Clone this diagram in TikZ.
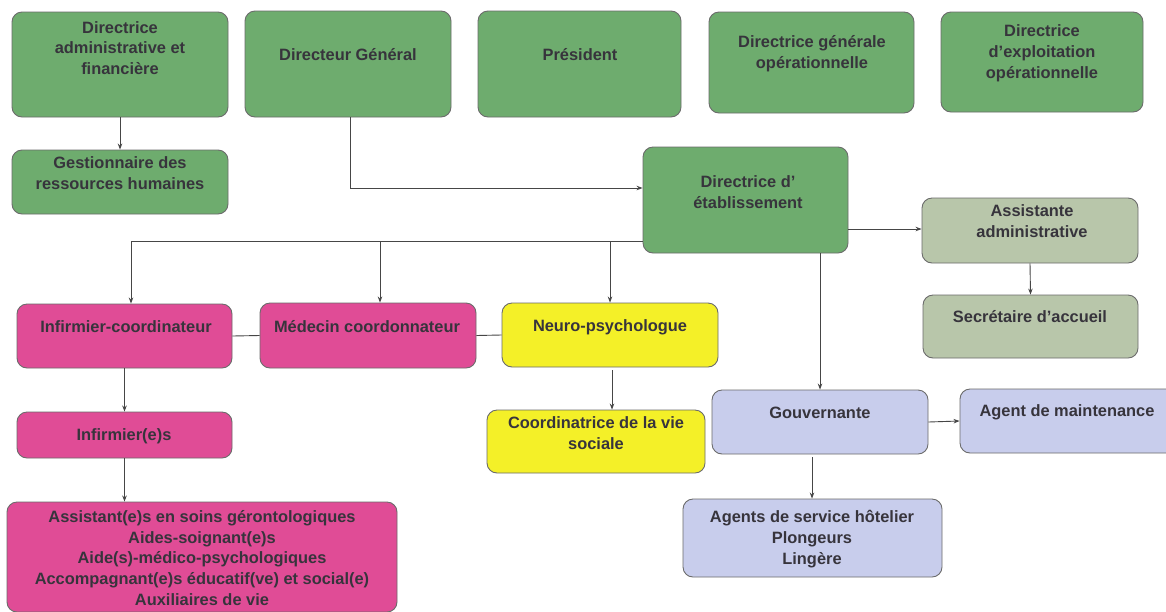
\documentclass[tikz,border=0pt]{standalone}
\usepackage{fontspec}
\setmainfont{Liberation Sans}
\usetikzlibrary{arrows.meta}
\definecolor{cgreen}{RGB}{110,172,110}
\definecolor{cpink}{RGB}{224,76,150}
\definecolor{cyellow}{RGB}{244,240,40}
\definecolor{cgraygreen}{RGB}{184,198,170}
\definecolor{clav}{RGB}{200,205,236}
\definecolor{cline}{RGB}{70,70,70}
\definecolor{ctext}{RGB}{55,52,60}
\tikzset{
  basebox/.style={draw=cline!80, line width=0.9pt, rounded corners=10pt, inner sep=0pt},
  boxg/.style={basebox, fill=cgreen},
  boxp/.style={basebox, fill=cpink},
  boxy/.style={basebox, fill=cyellow},
  boxgg/.style={basebox, fill=cgraygreen},
  boxl/.style={basebox, fill=clav},
  txt/.style={font=\fontsize{16.4}{20.8}\selectfont\bfseries, text=ctext, align=center, inner sep=0pt},
  arr/.style={draw=cline, line width=0.9pt, -{Stealth[length=6pt,width=4.5pt]}},
  lnk/.style={draw=cline, line width=0.9pt},
}
\begin{document}
\begin{tikzpicture}[x=1pt,y=-1pt]
\useasboundingbox (0,0) rectangle (1166,611);
\fill[white] (0,0) rectangle (1166,611);
% row 1
\node[boxg, minimum width=216pt, minimum height=105pt] (daf) at (120,64.5) {};
\node[txt] (daft) at (120,48) {Directrice\\administrative et\\financière};
\node[boxg, minimum width=206pt, minimum height=106pt] (dg) at (348,64) {};
\node[txt] (dgt) at (348,55) {Directeur Général};
\node[boxg, minimum width=203pt, minimum height=106pt] (pres) at (579.5,64) {};
\node[txt] (prest) at (580,55) {Président};
\node[boxg, minimum width=205pt, minimum height=101pt] (dgo) at (811.5,62.5) {};
\node[txt] (dgot) at (812,54) {Directrice générale\\opérationnelle};
\node[boxg, minimum width=202pt, minimum height=100pt] (deo) at (1042,62) {};
\node[txt] (deot) at (1042,53) {Directrice\\d'exploitation\\opérationnelle};
% row 2
\node[boxg, minimum width=216pt, minimum height=64pt] (grh) at (120,182) {};
\node[txt] (grht) at (120,173) {Gestionnaire des\\ressources humaines};
\node[boxg, minimum width=205pt, minimum height=106pt] (de) at (745.5,200) {};
\node[txt] (det) at (748,192) {Directrice d'\\établissement};
\node[boxgg, minimum width=216pt, minimum height=65pt] (aa) at (1030,230.5) {};
\node[txt] (aat) at (1032,221) {Assistante\\administrative};
% row 3
\node[boxp, minimum width=215pt, minimum height=64pt] (ic) at (124.5,336) {};
\node[txt] (ict) at (126,327) {Infirmier-coordinateur};
\node[boxp, minimum width=216pt, minimum height=65pt] (mc) at (368,335.5) {};
\node[txt] (mct) at (367,327) {Médecin coordonnateur};
\node[boxy, minimum width=216pt, minimum height=64pt] (np) at (610,335) {};
\node[txt] (npt) at (610,327) {Neuro-psychologue};
\node[boxgg, minimum width=215pt, minimum height=63pt] (sa) at (1030.5,326.5) {};
\node[txt] (sat) at (1030,317) {Secrétaire d'accueil};
% row 4
\node[boxp, minimum width=215pt, minimum height=46pt] (inf) at (124.5,435) {};
\node[txt] (inft) at (124,436) {Infirmier(e)s};
\node[boxy, minimum width=218pt, minimum height=63pt] (cvs) at (596,441.5) {};
\node[txt] (cvst) at (596,433) {Coordinatrice de la vie\\sociale};
\node[boxl, minimum width=216pt, minimum height=64pt] (gouv) at (820,422) {};
\node[txt] (gouvt) at (820,413) {Gouvernante};
\node[boxl, minimum width=220pt, minimum height=64pt] (am) at (1070,421) {};
\node[txt] (amt) at (1067,412) {Agent de maintenance};
% row 5
\node[boxp, minimum width=390pt, minimum height=110pt] (pink) at (202,557) {};
\node[txt] (pinkt) at (202,558) {Assistant(e)s en soins gérontologiques\\Aides-soignant(e)s\\Aide(s)-médico-psychologiques\\Accompagnant(e)s éducatif(ve) et social(e)\\Auxiliaires de vie};
\node[boxl, minimum width=259pt, minimum height=78pt] (ash) at (812.5,538) {};
\node[txt] (asht) at (812,539) {Agents de service hôtelier\\Plongeurs\\Lingère};
% connectors
\draw[arr] (daf.south) -- (grh.north);
\coordinate (dgB) at ([xshift=2pt]dg.south);
\coordinate (deIn) at ([yshift=12pt]de.west);
\draw[arr] (dgB) |- (deIn);
\coordinate (bus) at ([yshift=-41pt]de.west);
\coordinate (icTop) at ([xshift=6.5pt]ic.north);
\draw[arr] (bus) -| (icTop);
\coordinate (mcTop) at ([xshift=12pt]mc.north);
\draw[arr] (mcTop |- bus) -- (mcTop);
\draw[arr] (np.north |- bus) -- (np.north);
\coordinate (deR) at ([yshift=-29pt]de.east);
\draw[arr] (deR) -- (deR -| aa.west);
\coordinate (deB) at ([xshift=74.5pt]de.south);
\draw[arr] (deB) -- (deB |- gouv.north);
\draw[arr] (aa.south) -- (sa.north);
\draw[lnk] (ic.east) -- (mc.west);
\draw[lnk] (mc.east) -- (np.west);
\draw[arr] (ic.south) -- (inf.north);
\draw[arr] (inf.south) -- (inf.south |- pink.north);
\coordinate (npB) at ([xshift=2pt,yshift=-3pt]np.south);
\draw[arr] (npB) -- (npB |- cvs.north);
\draw[arr] (gouv.east) -- (am.west);
\coordinate (gB) at ([xshift=-8pt,yshift=-3pt]gouv.south);
\draw[arr] (gB) -- (gB |- ash.north);
\end{tikzpicture}
\end{document}
